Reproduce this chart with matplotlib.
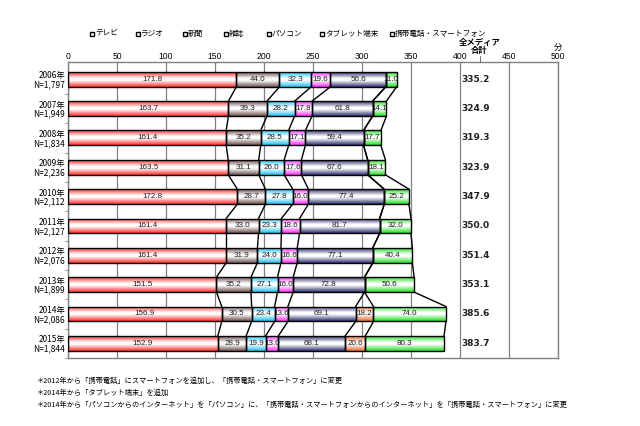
import numpy as np
import matplotlib
matplotlib.use("Agg")
import matplotlib.pyplot as plt
from matplotlib.colors import LinearSegmentedColormap
from matplotlib.lines import Line2D

plt.rcParams['font.family'] = ['Noto Sans CJK JP', 'DejaVu Sans']

years = ["2006年", "2007年", "2008年", "2009年", "2010年", "2011年", "2012年", "2013年", "2014年", "2015年"]
samples = ["N=1,797", "N=1,949", "N=1,834", "N=2,236", "N=2,112", "N=2,127", "N=2,076", "N=1,899", "N=2,086", "N=1,844"]
media = ["テレビ", "ラジオ", "新聞", "雑誌", "パソコン", "タブレット端末", "携帯電話・スマートフォン"]
tv = [171.8, 163.7, 161.4, 163.5, 172.8, 161.4, 161.4, 151.5, 156.9, 152.9]
radio = [44.0, 39.3, 35.2, 31.1, 28.7, 33.0, 31.9, 35.2, 30.5, 28.9]
newspaper = [32.3, 28.2, 28.5, 26.0, 27.8, 23.3, 24.0, 27.1, 23.4, 19.9]
magazine = [19.6, 17.8, 17.1, 17.6, 16.0, 18.6, 16.6, 16.0, 13.6, 13.0]
pc = [56.6, 61.8, 59.4, 67.6, 77.4, 81.7, 77.1, 72.8, 69.1, 68.1]
tablet = [0, 0, 0, 0, 0, 0, 0, 0, 18.2, 20.6]
mobile = [11.0, 14.1, 17.7, 18.1, 25.2, 32.0, 40.4, 50.6, 74.0, 80.3]
totals = [335.2, 324.9, 319.3, 323.9, 347.9, 350.0, 351.4, 353.1, 385.6, 383.7]
xticks = [0, 50, 100, 150, 200, 250, 300, 350, 400, 450, 500]
footnotes = [
    "＊2012年から「携帯電話」にスマートフォンを追加し、「携帯電話・スマートフォン」に変更",
    "＊2014年から「タブレット端末」を追加",
    "＊2014年から「パソコンからのインターネット」を「パソコン」に、「携帯電話・スマートフォンからのインターネット」を「携帯電話・スマートフォン」に変更",
]

series = [tv, radio, newspaper, magazine, pc, tablet, mobile]
colors = ["#ff3030", "#6e5050", "#20c0f0", "#ff30ff", "#303070", "#e86a30", "#20e020"]

W, H = 640, 426
fig = plt.figure(figsize=(W / 100, H / 100), dpi=100)
ax = fig.add_axes([68 / W, 1 - 358 / H, 490 / W, 296 / H])

n = len(years)
y = np.arange(n)
bh = 0.51
left = np.zeros(n)
cums = []
for vals, c in zip(series, colors):
    vals = np.array(vals, dtype=float)
    cmap = LinearSegmentedColormap.from_list("g", [(0, c), (0.42, "white"), (0.55, "white"), (1, c)])
    bars = ax.barh(y, vals, left=left, height=bh, facecolor="none", edgecolor="black", linewidth=1.0, zorder=3)
    for i, b in enumerate(bars):
        if vals[i] <= 0:
            continue
        im = ax.imshow(np.linspace(0, 1, 64).reshape(-1, 1), cmap=cmap, aspect="auto",
                       extent=(left[i], left[i] + vals[i], y[i] + bh / 2, y[i] - bh / 2),
                       zorder=2, interpolation="bilinear")
        im.set_clip_path(b)
        t = ax.text(left[i] + vals[i] / 2, y[i], f"{vals[i]:.1f}", ha="center", va="center",
                    fontsize=5.8, family="Liberation Sans", color="#202020", zorder=4)
        t.set_clip_path(b)
    left = left + vals
    cums.append(left.copy())

# series lines
for cum in cums:
    for i in range(n - 1):
        ax.plot([cum[i], cum[i + 1]], [y[i] + bh / 2, y[i + 1] - bh / 2], color="black", lw=1.0, zorder=3)

for i in range(n):
    ax.text(416, y[i], f"{totals[i]:.1f}", ha="center", va="center", fontsize=6.5,
            fontweight="bold", family="DejaVu Sans", color="#202020")

ax.set_xlim(0, 500)
ax.set_ylim(9.46, -0.59)
ax.xaxis.tick_top()
ax.set_xticks(xticks)
ax.set_xticklabels([str(v) for v in xticks], fontsize=6.2, family="Liberation Sans")
ax.tick_params(axis="x", length=0, pad=1)
ax.grid(axis="x", color="#808080", lw=0.9, zorder=1)
ax.set_yticks(y)
ax.set_yticklabels([f"{a}\n{b}" for a, b in zip(years, samples)], fontsize=6, linespacing=1.0)
ax.tick_params(axis="y", length=0, pad=2)
ax.set_yticks(np.arange(n) + 0.5, minor=True)
ax.tick_params(axis="y", which="minor", length=2, color="#808080")
for s in ax.spines.values():
    s.set_color("#808080")
    s.set_linewidth(1.0)

# legend
leg_x = [92, 138, 185, 226, 269, 322, 392]
for xp, name in zip(leg_x, media):
    fig.add_artist(Line2D([xp / W], [1 - 34 / H], marker="s", markersize=3.2, mfc="white",
                          mec="black", mew=1.0, transform=fig.transFigure))
    fig.text((xp + 3) / W, 1 - 34 / H, name, fontsize=5.5, va="center", ha="left")

# header
x420 = (68 + 420 * 0.98) / W
fig.text(x420, 1 - 43 / H, "全メディア", fontsize=6, fontweight="bold", ha="center", va="center")
fig.text(x420, 1 - 51 / H, "合計", fontsize=6, fontweight="bold", ha="center", va="center")
fig.add_artist(Line2D([x420, x420], [1 - 56 / H, 1 - 62 / H], color="#606060", lw=0.6, transform=fig.transFigure))
fig.text(558 / W, 1 - 47 / H, "分", fontsize=6, ha="center", va="center")

for k, fn in enumerate(footnotes):
    fig.text(37 / W, 1 - (381 + 12 * k) / H, fn, fontsize=5.2, ha="left", va="center")

fig.savefig("out.png", dpi=100, facecolor="white")
